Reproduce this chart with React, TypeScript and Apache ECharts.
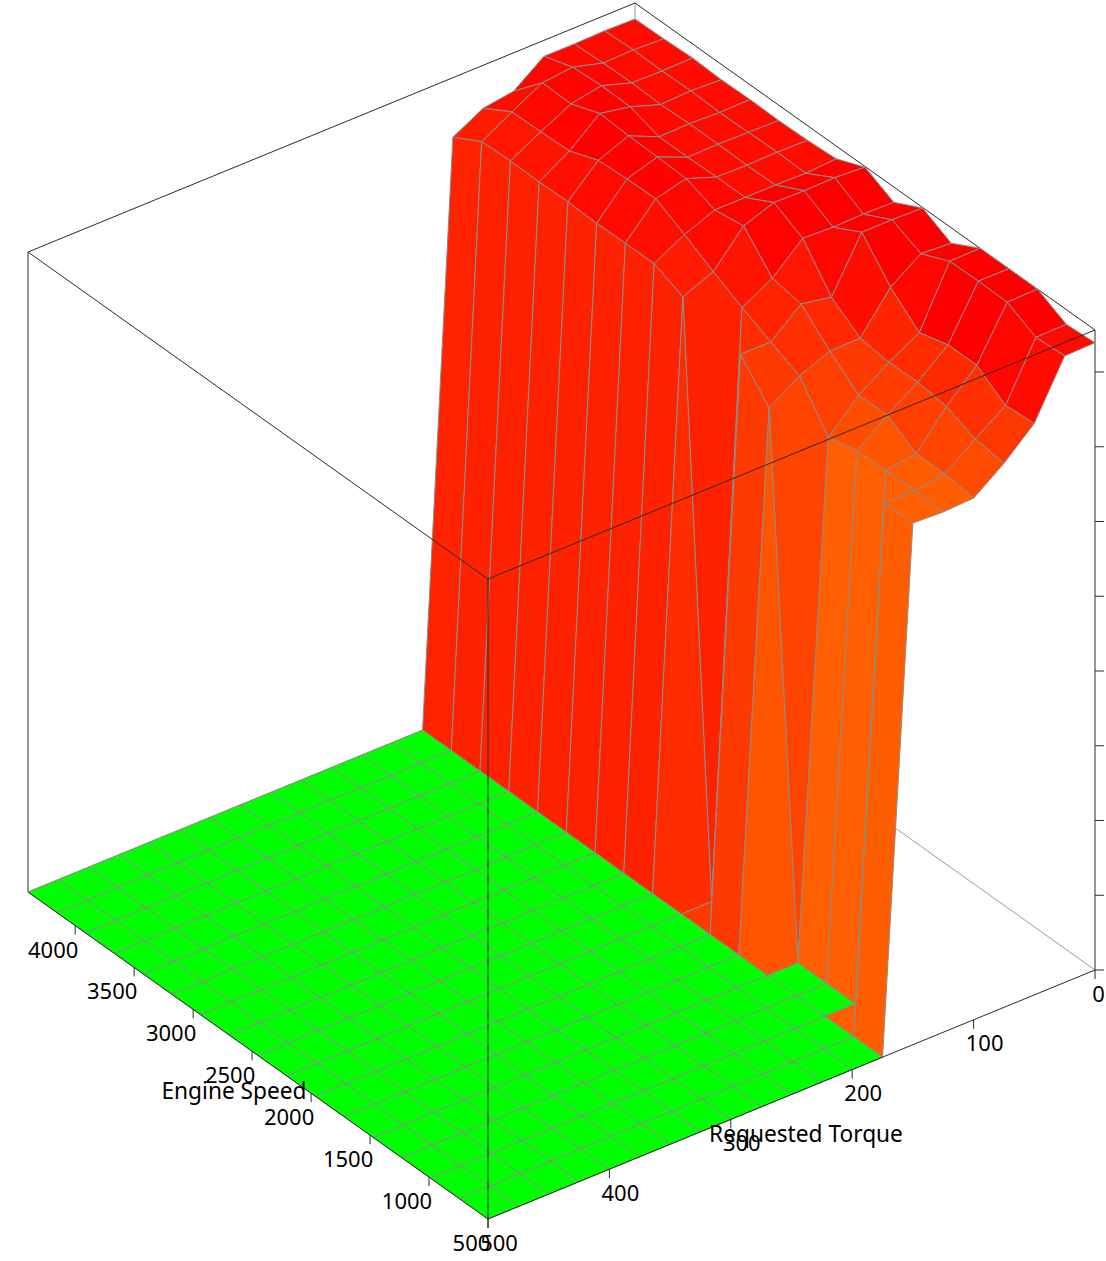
import React, { useEffect, useRef } from "react";
import * as echarts from "echarts";

const speeds = [500, 743.75, 987.5, 1231.25, 1475, 1718.75, 1962.5, 2206.25, 2450, 2693.75, 2937.5, 3181.25, 3425, 3668.75, 3912.5, 4156.25, 4400];
const torques = [0, 25, 50, 75, 100, 125, 150, 175, 200, 225, 250, 275, 300, 325, 350, 375, 400, 425, 450, 475, 500];

const heightT0 = [0.98, 0.977, 1.0, 1.0, 1.0, 0.976, 0.999, 0.976, 0.999, 0.98, 0.977, 0.976, 0.977, 0.976, 0.978, 0.976, 0.975];
const heightT25 = [0.979, 0.976, 0.999, 1.0, 0.999, 0.979, 1.0, 0.977, 1.002, 0.977, 0.978, 0.977, 0.976, 0.978, 0.977, 0.978, 0.976];
const heightT50 = [0.893, 0.889, 0.92, 0.92, 0.907, 0.946, 1.0, 0.976, 1.001, 0.978, 0.977, 0.978, 0.978, 0.976, 0.978, 0.977, 0.975];
const heightT75 = [0.85, 0.856, 0.875, 0.881, 0.88, 0.886, 0.918, 0.978, 1.002, 0.978, 0.978, 0.977, 0.977, 0.992, 0.993, 0.99, 0.975];
const heightT100 = [0.815, 0.821, 0.821, 0.849, 0.848, 0.885, 0.927, 0.935, 0.985, 0.978, 0.995, 0.997, 0.998, 1.001, 0.984, 0.985, 0.94];
const heightT125 = [0.813, 0.814, 0.814, 0.813, 0.802, 0.866, 0.887, 0.909, 0.933, 0.959, 0.983, 0.982, 0.979, 0.962, 0.96, 0.959, 0.933];
const heightT150 = [0.815, 0.814, 0, 0, 0, 0.835, 0.887, 0, 0.913, 0.933, 0.933, 0.932, 0.934, 0.933, 0.934, 0.932, 0.907];
const floorRow = [0, 0, 0, 0, 0, 0, 0, 0, 0, 0, 0, 0, 0, 0, 0, 0, 0];

const heights = [
  heightT0, heightT25, heightT50, heightT75, heightT100, heightT125, heightT150,
  floorRow, floorRow, floorRow, floorRow, floorRow, floorRow, floorRow,
  floorRow, floorRow, floorRow, floorRow, floorRow, floorRow, floorRow,
];

const speedTicks = [500, 1000, 1500, 2000, 2500, 3000, 3500, 4000];
const torqueTicks = [0, 100, 200, 300, 400, 500];
const heightTicks = [0, 0.1168, 0.2336, 0.3504, 0.4672, 0.584, 0.7008, 0.8176, 0.9344];

const SPEED_MIN = 500;
const SPEED_MAX = 4400;
const TORQUE_MAX = 500;

// Oblique projection of the plot box on to the hidden 2D axes.
const ORIGIN = [488, 1219];
const SPEED_VEC = [-460, -327];
const TORQUE_VEC = [607, -249];
const HEIGHT_VEC = 640;

function project(speed: number, torque: number, h: number): number[] {
  const a = (speed - SPEED_MIN) / (SPEED_MAX - SPEED_MIN);
  const b = (TORQUE_MAX - torque) / TORQUE_MAX;
  return [
    ORIGIN[0] + a * SPEED_VEC[0] + b * TORQUE_VEC[0],
    ORIGIN[1] + a * SPEED_VEC[1] + b * TORQUE_VEC[1] - h * HEIGHT_VEC,
  ];
}

function heightColor(h: number): string {
  const r = Math.round(255 * Math.min(1, 2 * h));
  const g = Math.round(255 * Math.max(0, Math.min(1, 2 * (1 - h))));
  return `rgb(${r},${g},0)`;
}

const FONT = '22px "Noto Sans"';
const TITLE_FONT = '22.7px "Noto Sans"';
const TEXT = "#000000";

export default function App() {
  const ref = useRef<HTMLDivElement>(null);
  useEffect(() => {
    document.body.style.margin = "0";
    document.body.style.overflow = "hidden";
    const chart = echarts.init(ref.current!, undefined, { renderer: "svg" });

    const cells: number[][] = [];
    for (let i = speeds.length - 2; i >= 0; i--) {
      for (let j = 0; j < torques.length - 1; j++) {
        cells.push([i, j]);
      }
    }

    const S0 = SPEED_MIN, S1 = SPEED_MAX, T0 = 0, T1 = TORQUE_MAX;
    const backEdges = [
      [S1, T0, 0, S0, T0, 0, 0],
      [S1, T0, 0, S1, T0, 1, 0],
      [S1, T0, 1, S0, T0, 1, 1],
      [S1, T0, 1, S1, T1, 1, 1],
      [S1, T1, 1, S1, T1, 0, 1],
      [S0, T0, 1, S0, T0, 0, 1],
      [S1, T1, 0, S1, T0, 0, 0],
    ];
    const frontEdges = [
      [S1, T1, 1, S0, T1, 1, 1],
      [S0, T0, 1, S0, T1, 1, 1],
      [S0, T1, 1, S0, T1, 0, 1],
      [S1, T1, 0, S0, T1, 0, 1],
      [S0, T1, 0, S0, T0, 0, 1],
    ];

    const lineItem = (params: any, api: any) => {
      const a = api.coord(project(api.value(0), api.value(1), api.value(2)));
      const b = api.coord(project(api.value(3), api.value(4), api.value(5)));
      return {
        type: "line",
        shape: { x1: a[0], y1: a[1], x2: b[0], y2: b[1] },
        style: {
          stroke: api.value(6) ? "#2a2a2a" : "#9a9a9a",
          lineWidth: 1,
          fill: "none",
        },
      };
    };

    const common = {
      type: "custom",
      coordinateSystem: "cartesian2d",
      silent: true,
      clip: false,
    };

    chart.setOption({
      animation: false,
      backgroundColor: "#ffffff",
      grid: { left: 0, right: 0, top: 0, bottom: 0 },
      xAxis: { type: "value", min: 0, max: 1106, show: false },
      yAxis: { type: "value", min: 0, max: 1261, inverse: true, show: false },
      series: [
        { ...common, z: 1, data: backEdges, renderItem: lineItem },
        {
          ...common,
          z: 2,
          data: cells,
          renderItem: (params: any, api: any) => {
            const i = api.value(0);
            const j = api.value(1);
            const corners = [
              [i, j],
              [i + 1, j],
              [i + 1, j + 1],
              [i, j + 1],
            ];
            const zs = corners.map(([a, b]) => heights[b][a]);
            const points = corners.map(([a, b]) =>
              api.coord(project(speeds[a], torques[b], heights[b][a]))
            );
            const sorted = [...zs].sort((p, q) => q - p);
            const level = sorted[3] > 0 ? (sorted[0] + sorted[1]) / 2 : sorted[0];
            return {
              type: "polygon",
              shape: { points },
              style: { fill: heightColor(level), stroke: "#8c8c8c", lineWidth: 1 },
            };
          },
        },
        { ...common, z: 3, data: frontEdges, renderItem: lineItem },
        {
          ...common,
          z: 4,
          data: speedTicks.map((s) => [s]),
          renderItem: (params: any, api: any) => {
            const s = api.value(0);
            const p = api.coord(project(s, TORQUE_MAX, 0));
            const label = String(s);
            return {
              type: "group",
              children: [
                {
                  type: "line",
                  shape: { x1: p[0], y1: p[1], x2: p[0], y2: p[1] + 9 },
                  style: { stroke: "#2a2a2a", lineWidth: 1 },
                },
                {
                  type: "text",
                  style: {
                    text: label,
                    x: p[0] - 5.5 * label.length,
                    y: p[1] + 23,
                    font: FONT,
                    fill: TEXT,
                    align: "center",
                    verticalAlign: "middle",
                  },
                },
              ],
            };
          },
        },
        {
          ...common,
          z: 4,
          data: torqueTicks.map((t) => [t]),
          renderItem: (params: any, api: any) => {
            const t = api.value(0);
            const p = api.coord(project(SPEED_MIN, t, 0));
            const label = String(t);
            return {
              type: "group",
              children: [
                {
                  type: "line",
                  shape: { x1: p[0], y1: p[1], x2: p[0], y2: p[1] + 9 },
                  style: { stroke: "#2a2a2a", lineWidth: 1 },
                },
                {
                  type: "text",
                  style: {
                    text: label,
                    x: p[0] + 3.67 * label.length,
                    y: p[1] + 22.5,
                    font: FONT,
                    fill: TEXT,
                    align: "center",
                    verticalAlign: "middle",
                  },
                },
              ],
            };
          },
        },
        {
          ...common,
          z: 4,
          data: heightTicks.map((h) => [h]),
          renderItem: (params: any, api: any) => {
            const p = api.coord(project(SPEED_MIN, 0, api.value(0)));
            return {
              type: "line",
              shape: { x1: p[0], y1: p[1], x2: p[0] + 9, y2: p[1] },
              style: { stroke: "#2a2a2a", lineWidth: 1 },
            };
          },
        },
      ],
      graphic: [
        {
          type: "text",
          z: 10,
          style: { text: "Engine Speed", x: 234, y: 1090, font: TITLE_FONT, fill: TEXT, align: "center", verticalAlign: "middle" },
        },
        {
          type: "text",
          z: 10,
          style: { text: "Requested Torque", x: 806, y: 1133, font: TITLE_FONT, fill: TEXT, align: "center", verticalAlign: "middle" },
        },
      ],
    });
    return () => chart.dispose();
  }, []);
  return <div ref={ref} style={{ width: 1106, height: 1261 }} />;
}
